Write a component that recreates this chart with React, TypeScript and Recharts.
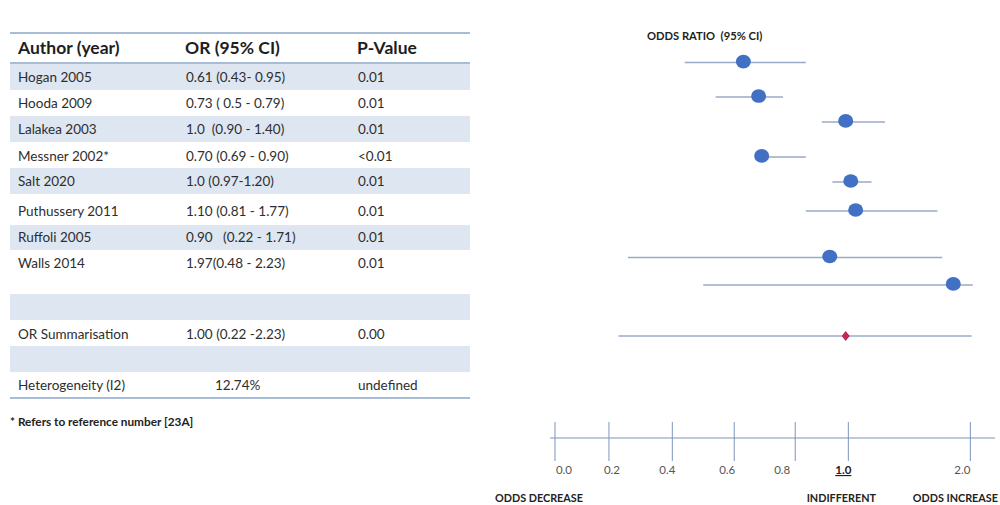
import React from "react";
import { ScatterChart, Scatter, XAxis, YAxis, ReferenceLine } from "recharts";

// table text
const AUTHORS = [
  "Hogan 2005",
  "Hooda 2009",
  "Lalakea 2003",
  "Messner 2002*",
  "Salt 2020",
  "Puthussery 2011",
  "Ruffoli 2005",
  "Walls 2014",
  "",
  "OR Summarisation",
  "",
  "Heterogeneity (I2)",
];
const OR_TEXT = [
  "0.61 (0.43- 0.95)",
  "0.73 ( 0.5 - 0.79)",
  "1.0  (0.90 - 1.40)",
  "0.70 (0.69 - 0.90)",
  "1.0 (0.97-1.20)",
  "1.10 (0.81 - 1.77)",
  "0.90   (0.22 - 1.71)",
  "1.97(0.48 - 2.23)",
  "",
  "1.00 (0.22 -2.23)",
  "",
  "12.74%",
];
const P_TEXT = ["0.01", "0.01", "0.01", "<0.01", "0.01", "0.01", "0.01", "0.01", "", "0.00", "", "undefined"];

// plotted values
const OR_POINT = [0.63, 0.68, 0.99, 0.69, 1.02, 1.06, 0.93, 1.86];
const CI_LOW = [0.44, 0.54, 0.9, 0.69, 0.94, 0.84, 0.26, 0.5];
const CI_HIGH = [0.84, 0.76, 1.3, 0.84, 1.19, 1.73, 1.77, 2.02];
const ROW_POS = [1.63, 2.95, 3.9, 5.24, 6.2, 7.31, 9.09, 10.14];

const SUMMARY_OR = 0.99;
const SUMMARY_LOW = 0.23;
const SUMMARY_HIGH = 2.01;
const SUMMARY_ROW = 12.1;

// hand drawn axis: tick values and where they sit along the line
const AXIS_TICKS = [0, 0.2, 0.4, 0.6, 0.8, 1.0, 2.0];
const AXIS_SPACING = [0, 0.184, 0.4, 0.611, 0.819, 1, 1.416];
const AXIS_LABELS = ["0.0", "0.2", "0.4", "0.6", "0.8", "1.0", "2.0"];
const AXIS_NOTES: Record<string, string> = { "0.0": "ODDS DECREASE", "1.0": "INDIFFERENT", "2.0": "ODDS INCREASE" };

const FONT = "Lato, 'Open Sans', sans-serif";
const LINE = "#9aaac6";
const DOT = "#4170c4";

// labels were typed by hand and don't sit exactly under their ticks
const LABEL_SHIFT = [9, 3, -5, -7, -13, -5, -8];

function toAxis(v: number): number {
  for (let i = 1; i < AXIS_TICKS.length; i++) {
    if (v <= AXIS_TICKS[i] || i === AXIS_TICKS.length - 1) {
      const t = (v - AXIS_TICKS[i - 1]) / (AXIS_TICKS[i] - AXIS_TICKS[i - 1]);
      return AXIS_SPACING[i - 1] + t * (AXIS_SPACING[i] - AXIS_SPACING[i - 1]);
    }
  }
  return v;
}

const points = OR_POINT.map((v, i) => ({ x: toAxis(v), y: ROW_POS[i] }));
const summary = [{ x: toAxis(SUMMARY_OR), y: SUMMARY_ROW }];

function Dot(props: any) {
  return <ellipse cx={props.cx} cy={props.cy - 1} rx={7.5} ry={6.8} fill={DOT} />;
}

function Diamond(props: any) {
  const { cx, cy } = props;
  return <polygon points={`${cx},${cy - 5} ${cx + 4},${cy} ${cx},${cy + 5} ${cx - 4},${cy}`} fill="#c0284e" />;
}

function AxisTick(props: any) {
  const { x, y, payload } = props;
  const idx = AXIS_SPACING.findIndex((p) => Math.abs(p - payload.value) < 1e-6);
  const label = AXIS_LABELS[idx] ?? "";
  const note = AXIS_NOTES[label];
  const bold = label === "1.0";
  return (
    <g>
      <line x1={x} x2={x} y1={y - 16} y2={y + 23} stroke="#7d95bb" strokeWidth={1} />
      <text
        x={x + (LABEL_SHIFT[idx] ?? 0)}
        y={y + 36}
        textAnchor="middle"
        fontSize={11.5}
        fontFamily={FONT}
        fontWeight={bold ? 700 : 400}
        textDecoration={bold ? "underline" : undefined}
        fill={bold ? "#222" : "#555"}
      >
        {label}
      </text>
      {note && (
        <text
          x={label === "0.0" ? x - 16 : label === "2.0" ? x - 15 : x - 7}
          y={y + 64}
          textAnchor="middle"
          fontSize={10.8}
          fontWeight={700}
          fontFamily={FONT}
          fill="#222"
        >
          {note}
        </text>
      )}
    </g>
  );
}

const ROW_TOPS = [64, 90, 116, 142, 168, 194, 225, 250, 294, 320, 346, 372];
const ROW_HEIGHTS = [26, 26, 26, 26, 26, 31, 25, 44, 26, 26, 26, 26];
const ROW_TEXT_MID = [77, 103, 129, 155.5, 181, 210.5, 237, 263, 307, 334, 359, 385];

function Table() {
  const cell = (left: number, top: number, text: string, style?: React.CSSProperties) => (
    <div
      style={{
        position: "absolute",
        left,
        top: top - 10,
        height: 20,
        lineHeight: "20px",
        fontSize: 13.5,
        color: "#2e2e2e",
        whiteSpace: "pre",
        fontFamily: FONT,
        ...style,
      }}
    >
      {text}
    </div>
  );
  const head = { fontSize: 17.5, fontWeight: 700, color: "#1e1e1e" } as React.CSSProperties;
  return (
    <>
      <div style={{ position: "absolute", left: 10, top: 32, width: 460, height: 1.5, background: "#a8bcd6" }} />
      {cell(18, 48, "Author (year)", head)}
      {cell(185, 48, "OR (95% CI)", head)}
      {cell(357, 48, "P-Value", head)}
      <div style={{ position: "absolute", left: 10, top: 62, width: 460, height: 1.5, background: "#a8bcd6" }} />
      {AUTHORS.map((a, i) => (
        <React.Fragment key={i}>
          {i % 2 === 0 && (
            <div style={{ position: "absolute", left: 10, top: ROW_TOPS[i], width: 460, height: ROW_HEIGHTS[i], background: "#dde6f1" }} />
          )}
          {cell(18, ROW_TEXT_MID[i], a)}
          {cell(a.startsWith("Heterogeneity") ? 215 : 186, ROW_TEXT_MID[i], OR_TEXT[i])}
          {cell(358, ROW_TEXT_MID[i], P_TEXT[i])}
        </React.Fragment>
      ))}
      <div style={{ position: "absolute", left: 10, top: 397, width: 460, height: 1.5, background: "#a8bcd6" }} />
      {cell(10, 422, "* Refers to reference number [23A]", { fontSize: 11.8, fontWeight: 700, color: "#222" })}
    </>
  );
}

export default function App() {
  return (
    <div style={{ position: "relative", width: 1000, height: 505, background: "#fff", overflow: "hidden" }}>
      <style>{"body{margin:0}"}</style>
      <Table />
      <div
        style={{
          position: "absolute",
          left: 647,
          top: 28,
          fontSize: 11.2,
          lineHeight: "16px",
          fontWeight: 700,
          fontFamily: FONT,
          color: "#222",
          whiteSpace: "pre",
        }}
      >
        {"ODDS RATIO  (95% CI)"}
      </div>
      <div style={{ position: "absolute", left: 0, top: 0 }}>
        <ScatterChart width={1000} height={505} margin={{ top: 20, left: 550, right: 5, bottom: 7 }}>
          <XAxis
            type="number"
            dataKey="x"
            domain={[-0.017, 1.5]}
            ticks={AXIS_SPACING}
            interval={0}
            height={60}
            tickSize={0}
            tickMargin={0}
            tick={<AxisTick />}
            axisLine={{ stroke: "#7d95bb", strokeWidth: 1 }}
            allowDataOverflow
          />
          <YAxis type="number" dataKey="y" domain={[0, 16]} reversed hide />
          {OR_POINT.map((_, i) => (
            <ReferenceLine
              key={i}
              segment={[
                { x: toAxis(CI_LOW[i]), y: ROW_POS[i] },
                { x: toAxis(CI_HIGH[i]), y: ROW_POS[i] },
              ]}
              stroke={LINE}
              strokeWidth={1.5}
              ifOverflow="visible"
            />
          ))}
          <ReferenceLine
            segment={[
              { x: toAxis(SUMMARY_LOW), y: SUMMARY_ROW },
              { x: toAxis(SUMMARY_HIGH), y: SUMMARY_ROW },
            ]}
            stroke={LINE}
            strokeWidth={1.5}
            ifOverflow="visible"
          />
          <Scatter data={points} shape={<Dot />} isAnimationActive={false} />
          <Scatter data={summary} shape={<Diamond />} isAnimationActive={false} />
        </ScatterChart>
      </div>
    </div>
  );
}
